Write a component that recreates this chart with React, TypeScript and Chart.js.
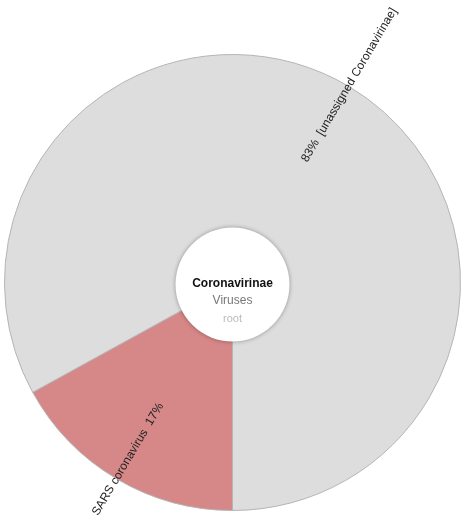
import React, { useEffect, useRef } from "react";
import { Chart, registerables } from "chart.js";

Chart.register(...registerables);

const categories = ["SARS coronavirus", "[unassigned Coronavirinae]"];
const values = [17, 83];
const percentLabels = ["17%", "83%"];
const sliceColors = ["#d68787", "#dddddd"];
const centerLines = ["Coronavirinae", "Viruses", "root"];

const labelPlugin = {
  id: "kronaLabels",
  afterDatasetsDraw(chart: any) {
    const ctx = chart.ctx;
    const meta = chart.getDatasetMeta(0);
    const arcs = meta.data;
    if (!arcs.length) return;
    const cx = arcs[0].x;
    const cy = arcs[0].y;
    // center circle
    ctx.save();
    ctx.beginPath();
    ctx.arc(cx, cy + 2, 57, 0, Math.PI * 2);
    ctx.fillStyle = "#ffffff";
    ctx.shadowColor = "rgba(0,0,0,0.35)";
    ctx.shadowBlur = 4;
    ctx.fill();
    ctx.restore();

    ctx.save();
    ctx.textAlign = "center";
    ctx.textBaseline = "middle";
    ctx.font = "bold 12px 'Liberation Sans', Arial, sans-serif";
    ctx.fillStyle = "#111111";
    ctx.fillText(centerLines[0], cx, cy + 1);
    ctx.font = "12px 'Liberation Sans', Arial, sans-serif";
    ctx.fillStyle = "#777777";
    ctx.fillText(centerLines[1], cx, cy + 18);
    ctx.font = "11px 'Liberation Sans', Arial, sans-serif";
    ctx.fillStyle = "#bbbbbb";
    ctx.fillText(centerLines[2], cx, cy + 36);
    ctx.restore();

    // radial labels
    const r0 = 141;
    arcs.forEach((arc: any, i: number) => {
      const mid = (arc.startAngle + arc.endAngle) / 2;
      ctx.save();
      ctx.translate(cx, cy);
      ctx.font = "12px 'Liberation Sans', Arial, sans-serif";
      ctx.fillStyle = "#222222";
      ctx.textBaseline = "middle";
      if (Math.cos(mid) >= 0) {
        ctx.rotate(mid);
        ctx.textAlign = "left";
        ctx.fillText(percentLabels[i] + "  " + categories[i], r0, 0);
      } else {
        ctx.rotate(mid + Math.PI);
        ctx.textAlign = "right";
        ctx.fillText(categories[i] + "  " + percentLabels[i], -r0, 0);
      }
      ctx.restore();
    });
  },
};

export default function App() {
  const ref = useRef<HTMLCanvasElement>(null);
  useEffect(() => {
    if (!ref.current) return;
    const chart = new Chart(ref.current, {
      type: "pie",
      data: {
        labels: categories,
        datasets: [
          {
            data: values,
            backgroundColor: sliceColors,
            borderColor: "#b5b5b5",
            borderWidth: 1,
          },
        ],
      },
      options: {
        responsive: false,
        animation: false,
        rotation: 180,
        layout: { padding: { left: 4, right: 1, top: 54, bottom: 6 } },
        plugins: {
          legend: { display: false },
          tooltip: { enabled: false },
        },
      },
      plugins: [labelPlugin],
    });
    return () => chart.destroy();
  }, []);
  return (
    <div style={{ position: "fixed", left: 0, top: 0, width: 462, height: 517, background: "#fff" }}>
      <canvas ref={ref} width={462} height={517} style={{ display: "block" }} />
    </div>
  );
}
